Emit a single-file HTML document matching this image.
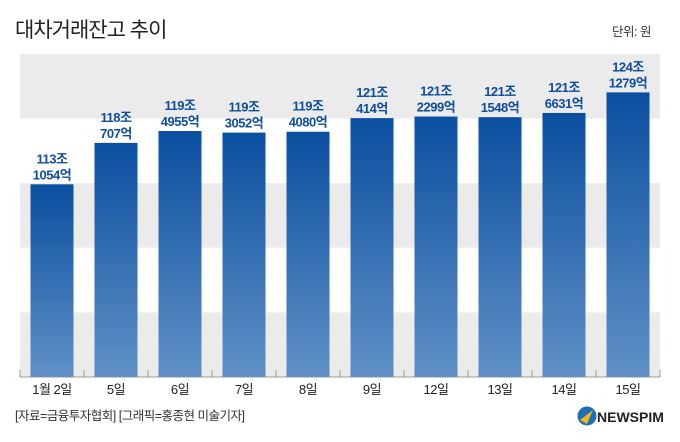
<!DOCTYPE html>
<html><head><meta charset="utf-8"><style>
body{margin:0;background:#fff;font-family:"Liberation Sans","Noto Sans CJK KR",sans-serif;}
#wrap{position:relative;width:680px;height:442px;overflow:hidden;background:#fff}
.t{position:absolute;white-space:nowrap}
</style></head><body>
<div id="wrap">
<div class="t" style="left:15px;top:14px;font-size:21px;color:#222;letter-spacing:-1px">대차거래잔고 추이</div>
<div class="t" style="left:612px;top:21px;font-size:12.5px;color:#333;letter-spacing:-0.5px">단위: 원</div>
<svg id="chart" width="680" height="442" style="position:absolute;left:0;top:0"></svg>
<div class="t" style="left:15px;top:405px;font-size:12.5px;color:#333;letter-spacing:-0.5px">[자료=금융투자협회] [그래픽=홍종현 미술기자]</div>
<div class="t" style="left:577px;top:406px;font-size:14px;font-weight:bold;color:#222;">
<svg width="20" height="20" style="vertical-align:-4px"><circle cx="10" cy="10" r="9.5" fill="#1d6fb8"/><path d="M3 14 L16 4 L10 18 Z" fill="#f2b51c"/></svg>NEWSPIM</div>
</div>
<script>
const categories=["1월 2일","5일","6일","7일","8일","9일","12일","13일","14일","15일"];
const values=[113.1054,118.0707,119.4955,119.3052,119.4080,121.0414,121.2299,121.1548,121.6631,124.1279];
const labelTop=["113조","118조","119조","119조","119조","121조","121조","121조","121조","124조"];
const labelBottom=["1054억","707억","4955억","3052억","4080억","414억","2299억","1548억","6631억","1279억"];
const yMin=90, yMax=128.73;
const svg=document.getElementById('chart');
const NS="http://www.w3.org/2000/svg";
const L=20,R=660,T=54,B=377;
const bw=(R-L)/categories.length;
const y=v=>B-(v-yMin)/(yMax-yMin)*(B-T);
const x=i=>L+i*bw;
function mk(t,a){const e=document.createElementNS(NS,t);for(const k in a)e.setAttribute(k,a[k]);svg.appendChild(e);return e;}
const defs=mk('defs',{});
defs.innerHTML='<linearGradient id="g" x1="0" y1="0" x2="0" y2="1"><stop offset="0" stop-color="#0a4fa0"/><stop offset="1" stop-color="#6090c6"/></linearGradient>';
const bh=(B-T)/5;
for(let k=0;k<5;k++){
  const r=mk('rect',{x:L,y:T+k*bh,width:R-L,height:bh,fill:k%2===0?'#ebebeb':'#fff'});
  
  
}
mk('line',{x1:L,x2:R,y1:B,y2:B,stroke:'#999','stroke-width':1});
for(let i=0;i<=categories.length;i++){
  const tk=mk('line',{x1:x(i),x2:x(i),y1:B-7,y2:B,stroke:'#999','stroke-width':1});
  
  
}
categories.forEach((c,i)=>{
  const cx=x(i)+bw/2, top=y(values[i]);
  const r=mk('rect',{x:cx-21.5,y:top,width:43,height:B-top,fill:'url(#g)'});
  
  
  const t1=mk('text',{x:cx,y:top-21,'text-anchor':'middle','font-size':13,'font-weight':'bold',fill:'#0d4d9c','letter-spacing':'-0.5'});
  t1.textContent=labelTop[i];
  
  
  const t2=mk('text',{x:cx,y:top-5,'text-anchor':'middle','font-size':13,'font-weight':'bold',fill:'#0d4d9c','letter-spacing':'-0.5'});
  t2.textContent=labelBottom[i];
  
  
  const xl=mk('text',{x:cx,y:394,'text-anchor':'middle','font-size':13,fill:'#222','letter-spacing':'-0.5'});
  xl.textContent=c;
  
  
});
</script>
</body></html>
